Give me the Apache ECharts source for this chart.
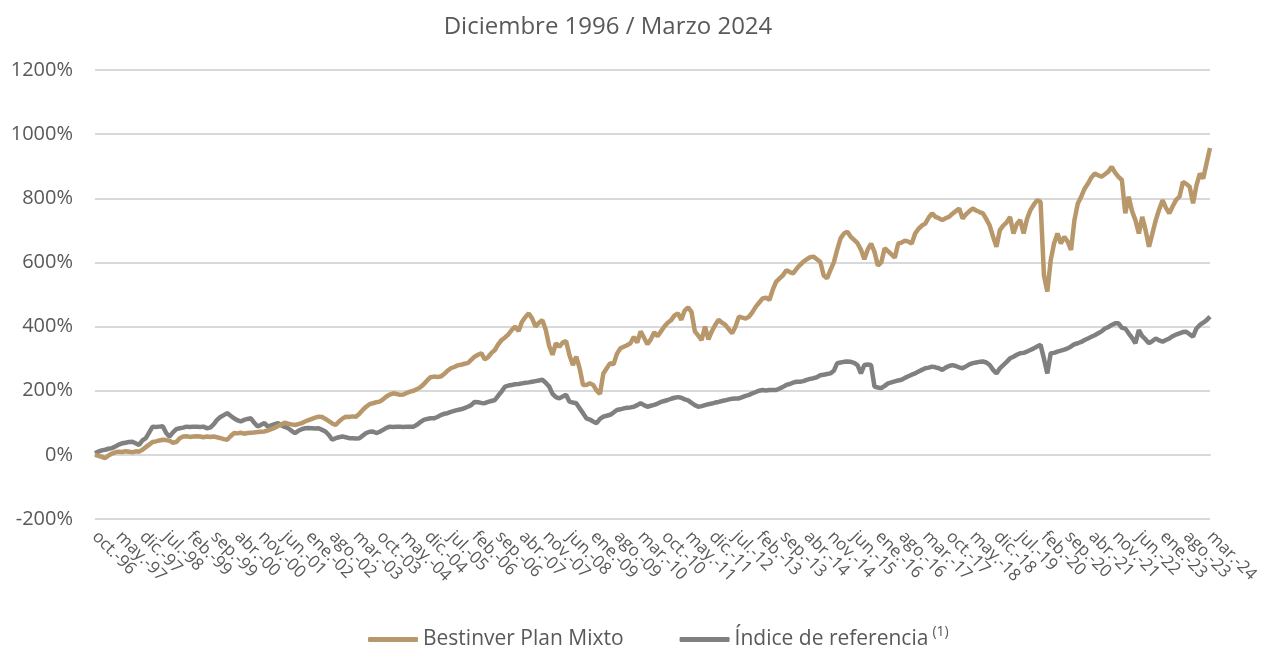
<!DOCTYPE html>
<html>
<head>
<meta charset="utf-8">
<script src="https://cdn.jsdelivr.net/npm/echarts@6/dist/echarts.min.js"></script>
<style>html,body{margin:0;padding:0;background:#fff}#c{width:1263px;height:650px}</style>
</head>
<body>
<div id="c"></div>
<script>
const titleText = 'Diciembre 1996 / Marzo 2024';
const monthNames = ['ene.','feb.','mar.','abr.','may.','jun.','jul.','ago.','sep.','oct.','nov.','dic.'];
const startYear = 1996, startMonth = 9; // oct.-96
const labelStep = 7; // a tick label every 7 months
const seriesNames = ['Bestinver Plan Mixto', 'Índice de referencia'];
const yTicks = [-200, 0, 200, 400, 600, 800, 1000, 1200];

const bestinver = [
0,-3,-6,-10,-2,4,8,10,9,11,
10,8,11,10,16,24,32,40,42,45,
47,46,44,38,40,52,57,58,56,57,
58,57,55,57,56,57,55,52,49,47,
58,68,67,69,66,68,69,70,71,72,
73,76,80,84,90,95,100,97,95,93,
96,99,104,108,112,116,119,118,112,105,
98,93,104,113,119,118,120,119,128,140,
150,158,161,164,166,173,182,188,192,190,
187,188,193,197,200,205,211,220,232,242,
244,243,244,252,262,270,274,279,281,284,
286,296,306,312,317,298,305,318,327,345,
358,366,376,390,400,386,415,430,441,425,
400,412,420,390,340,312,348,337,350,355,
311,280,306,270,218,218,223,218,200,190,
254,270,286,282,315,332,337,342,348,368,
350,385,365,345,360,382,370,385,400,412,
420,435,441,421,450,460,446,385,372,358,
400,360,385,405,421,412,405,392,379,400,
431,428,425,431,445,462,475,488,490,483,
515,540,550,560,576,570,566,580,592,602,
610,616,618,610,602,560,550,576,600,640,
675,690,696,680,670,660,640,610,640,659,
633,590,600,644,635,625,615,659,662,668,
665,659,690,705,715,721,740,753,742,738,
732,738,742,752,760,768,737,750,760,768,
762,757,753,735,715,680,649,701,715,725,
742,690,720,732,690,735,763,780,794,789,
560,509,607,660,690,659,680,665,639,732,
784,805,830,846,865,877,872,867,875,883,
898,880,867,857,753,805,760,732,690,742,
700,649,690,732,765,794,770,753,775,795,
805,851,845,836,784,840,877,862,910,957
];

const indice = [
5,10,14,16,19,21,26,32,36,38,
40,41,36,31,45,52,70,88,87,88,
89,68,57,70,80,83,85,88,87,88,
88,87,88,83,85,95,109,118,124,130,
122,114,108,104,109,112,114,100,88,94,
99,88,92,96,99,92,87,83,75,68,
75,80,83,84,83,82,83,78,73,62,
47,52,55,57,55,52,52,51,52,60,
68,72,73,68,72,78,84,88,87,88,
88,87,88,88,88,94,102,109,112,114,
114,118,124,128,130,134,137,140,142,146,
150,155,165,164,162,161,165,168,171,185,
198,213,216,218,220,221,223,225,226,228,
230,232,234,225,213,190,180,176,182,187,
166,163,161,145,130,114,110,104,99,112,
119,122,125,132,140,142,145,147,148,150,
155,161,155,150,153,156,160,165,168,171,
175,178,180,178,173,170,162,155,150,152,
155,158,160,163,165,168,170,173,175,176,
176,180,184,187,192,196,200,202,201,202,
202,202,207,212,218,221,225,228,228,230,
234,237,239,242,248,250,252,254,262,286,
288,290,291,290,287,280,254,280,282,280,
213,210,208,215,223,226,229,232,234,240,
245,250,254,260,265,270,272,275,273,270,
265,272,277,280,277,273,270,276,282,286,
288,290,291,288,280,265,254,270,280,290,
301,306,312,317,318,322,327,332,338,343,
300,254,317,318,322,325,328,332,338,345,
348,352,358,363,368,373,379,385,394,398,
405,410,410,396,394,379,365,348,389,370,
360,348,355,363,357,353,358,363,370,375,
379,383,384,376,369,394,405,412,420,431
];

const categories = [];
for (let k = 0; k < bestinver.length; k++) {
  const m = (startMonth + k) % 12;
  const y = startYear + Math.floor((startMonth + k) / 12);
  categories.push(monthNames[m] + '-' + String(y).slice(2));
}

const FONT = 'Open Sans';
const gold = '#B8976B';
const grey = '#808080';
const txt = '#595959';

const chart = echarts.init(document.getElementById('c'), null, {renderer: 'canvas'});
chart.setOption({
  animation: false,
  title: {
    text: titleText, left: 603, top: 10, textAlign: 'center',
    textStyle: {fontFamily: FONT, fontSize: 24, fontWeight: 'normal', color: txt}
  },
  grid: {left: 95, right: 53, top: 70, bottom: 131, containLabel: false},
  legend: {
    bottom: -5, left: 363, itemGap: 56, itemWidth: 50, itemHeight: 5,
    icon: 'roundRect',
    textStyle: {
      fontFamily: FONT, fontSize: 21, color: txt,
      rich: {
        t: {fontFamily: FONT, fontSize: 21, color: txt},
        s: {fontFamily: FONT, fontSize: 14, color: txt, verticalAlign: 'top', padding: [0, 0, 14, 4]}
      }
    },
    formatter: function (name) {
      return name === seriesNames[1] ? '{t|' + name + '}{s|(1)}' : '{t|' + name + '}';
    }
  },
  xAxis: {
    type: 'category', data: categories, boundaryGap: false,
    axisLine: {show: true, lineStyle: {color: '#d9d9d9', width: 2}},
    axisTick: {show: false},
    axisLabel: {interval: 0, rotate: -45, fontFamily: FONT, fontSize: 17, color: txt, margin: 15,
      hideOverlap: false,
      formatter: function (v, idx) { return idx % labelStep === 0 ? v : ''; }}
  },
  yAxis: {
    type: 'value', min: yTicks[0], max: yTicks[yTicks.length - 1], interval: 200,
    axisLine: {show: false}, axisTick: {show: false},
    axisLabel: {fontFamily: FONT, fontSize: 20, color: txt, margin: 22, formatter: v => v + '%'},
    splitLine: {lineStyle: {color: '#d9d9d9', width: 2}}
  },
  series: [
    {name: seriesNames[0], type: 'line', data: bestinver, showSymbol: false, symbol: 'none',
     lineStyle: {color: gold, width: 4.5}, itemStyle: {color: gold}, z: 3},
    {name: seriesNames[1], type: 'line', data: indice, showSymbol: false, symbol: 'none',
     lineStyle: {color: grey, width: 4.5}, itemStyle: {color: grey}, z: 2}
  ]
});
</script>
</body>
</html>
